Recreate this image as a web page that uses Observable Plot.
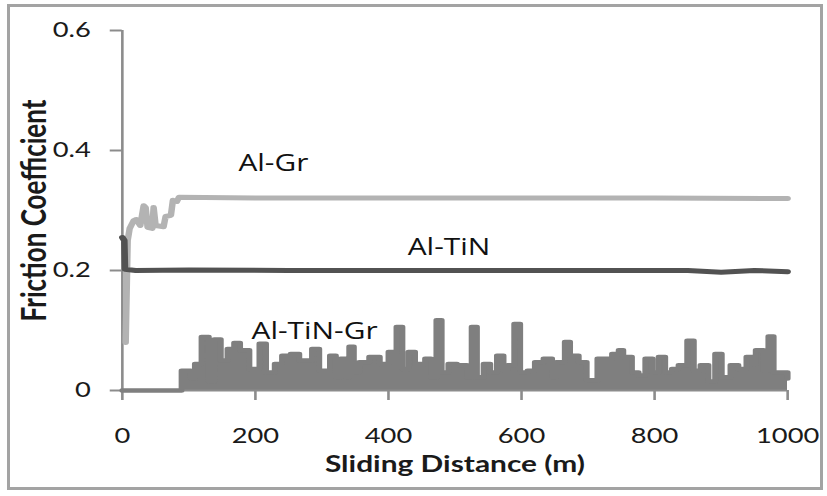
<!DOCTYPE html>
<html><head><meta charset="utf-8">
<script src="https://cdn.jsdelivr.net/npm/d3@7"></script>
<script src="https://cdn.jsdelivr.net/npm/@observablehq/plot@0.6"></script>
<style>
body{margin:0;background:#fff;}
#wrap{position:relative;width:827px;height:496px;overflow:hidden;background:#fff}
#chart{position:absolute;left:0;top:0;width:636px;transform-origin:0 0;}
#frame{position:absolute;left:7px;top:4px;width:816px;height:486px;border:3px solid #a3a3a3;box-sizing:border-box;pointer-events:none}
</style></head><body>
<div id="wrap"><div id="chart"></div><div id="frame"></div></div>
<script>
// Tick values
const xTicks = [0, 200, 400, 600, 800, 1000];
const yTicks = [0, 0.2, 0.4, 0.6];

// Series names
const seriesNames = ["Al-Gr", "Al-TiN", "Al-TiN-Gr"];

// Al-Gr (light gray)
const grX = [5, 8, 11, 17, 21, 27, 32, 35, 38, 45, 47, 50, 62, 65, 73, 76, 82, 85, 200, 400, 600, 800, 1000];
const grY = [0.08, 0.25, 0.27, 0.283, 0.285, 0.275, 0.308, 0.305, 0.272, 0.27, 0.305, 0.275, 0.273, 0.29, 0.292, 0.317, 0.315, 0.322, 0.321, 0.321, 0.321, 0.321, 0.32];

// Al-TiN (dark gray)
const tinX = [0, 3, 4, 20, 100, 250, 400, 550, 700, 850, 900, 950, 1000];
const tinY = [0.255, 0.25, 0.202, 0.2, 0.201, 0.2, 0.2, 0.2, 0.2, 0.2, 0.197, 0.2, 0.198];

// Al-TiN-Gr (medium gray), stepped readings
const tingrX = [0, 89, 103, 109, 119, 130, 138, 148, 158, 168,
  177, 191, 206, 216, 229, 240, 253, 266, 285, 296,
  312, 321, 328, 336, 341, 348, 356, 371, 387, 400,
  412, 421, 430, 440, 455, 464, 472, 480, 490, 503,
  518, 525, 533, 543, 553, 563, 573, 579, 589, 598,
  609, 620, 633, 646, 652, 665, 673, 686, 698, 714,
  736, 746, 753, 766, 776, 786, 797, 806, 816, 826,
  836, 849, 859, 869, 881, 891, 901, 914, 926, 938,
  947, 952, 964, 971, 979, 989, 1000];
const tingrY = [0, 0.033, 0.02, 0.044, 0.089, 0.015, 0.085, 0.05, 0.069, 0.079,
  0.067, 0.036, 0.078, 0.03, 0.044, 0.058, 0.061, 0.05, 0.069, 0.033,
  0.058, 0.022, 0.053, 0.022, 0.073, 0.03, 0.047, 0.056, 0.044, 0.064,
  0.106, 0.036, 0.064, 0.044, 0.053, 0.022, 0.117, 0.03, 0.044, 0.042,
  0.022, 0.106, 0.022, 0.044, 0.03, 0.058, 0.033, 0.042, 0.111, 0.03,
  0.033, 0.047, 0.053, 0.022, 0.047, 0.081, 0.058, 0.047, 0.017, 0.053,
  0.061, 0.067, 0.056, 0.03, 0.025, 0.053, 0.03, 0.056, 0.03, 0.036,
  0.042, 0.083, 0.033, 0.042, 0.015, 0.061, 0.022, 0.042, 0.036, 0.056,
  0.044, 0.067, 0.033, 0.09, 0.03, 0.03, 0.02];

// Label anchor points (data units)
const labelX = [227, 491, 289];
const labelY = [0.378, 0.238, 0.098];

const toRows = (xs, ys) => xs.map((x, i) => ({x, y: ys[i]}));
const gr = toRows(grX, grY);
const tin = toRows(tinX, tinY);
const tingr = toRows(tingrX, tingrY);
const labels = seriesNames.map((name, i) => ({name, x: labelX[i], y: labelY[i]}));

const W = 636, K = 827 / W;
const axisGray = "#8c8c8c";

const chart = Plot.plot({
  width: W, height: 496,
  marginLeft: 121.7 / K, marginRight: W - 787 / K, marginTop: 30, marginBottom: 106,
  x: {domain: [0, 1000]},
  y: {domain: [0, 0.6]},
  style: {fontFamily: "Lato, sans-serif", fontSize: "21px", color: "#1a1a1a", background: "white", overflow: "visible"},
  marks: [
    Plot.areaY(tingr, {x: "x", y: "y", curve: "step-after", fill: "#7f7f7f"}),
    Plot.ruleY([0], {stroke: axisGray, strokeWidth: 2}),
    Plot.ruleX([0], {stroke: axisGray, strokeWidth: 2}),
    Plot.axisX({ticks: xTicks, tickSize: 10, tickPadding: 28, stroke: axisGray, strokeWidth: 2, label: null, tickFormat: d => String(d)}),
    Plot.axisY({ticks: yTicks, tickSize: 9.2, tickPadding: 15, stroke: axisGray, strokeWidth: 2, label: null, tickFormat: d => d === 0 ? "0" : d.toFixed(1)}),
    Plot.line(tingr, {x: "x", y: "y", curve: "step-after", stroke: "#7f7f7f", strokeWidth: 4.5, strokeLinejoin: "round", strokeLinecap: "round"}),
    Plot.line(gr, {x: "x", y: "y", stroke: "#b3b3b3", strokeWidth: 5, strokeLinejoin: "round"}),
    Plot.line(tin, {x: "x", y: "y", stroke: "#525252", strokeWidth: 5, strokeLinejoin: "round"}),
    Plot.text(labels, {x: "x", y: "y", text: "name", fontFamily: "Open Sans, sans-serif", fontSize: 23, fill: "#111"}),
    Plot.text(["Friction Coefficient"], {text: d => d, frameAnchor: "left", textAnchor: "middle", dx: -66.7, rotate: -90, fontWeight: "bold", fontSize: 26, fill: "#1a1a1a"}),
    Plot.text(["Sliding Distance (m)"], {text: d => d, frameAnchor: "bottom", textAnchor: "middle", dy: 81, fontWeight: "bold", fontSize: 23, fill: "#1a1a1a"})
  ]
});
const holder = document.getElementById("chart");
holder.style.transform = `scaleX(${K})`;
holder.appendChild(chart);
</script>
</body></html>
